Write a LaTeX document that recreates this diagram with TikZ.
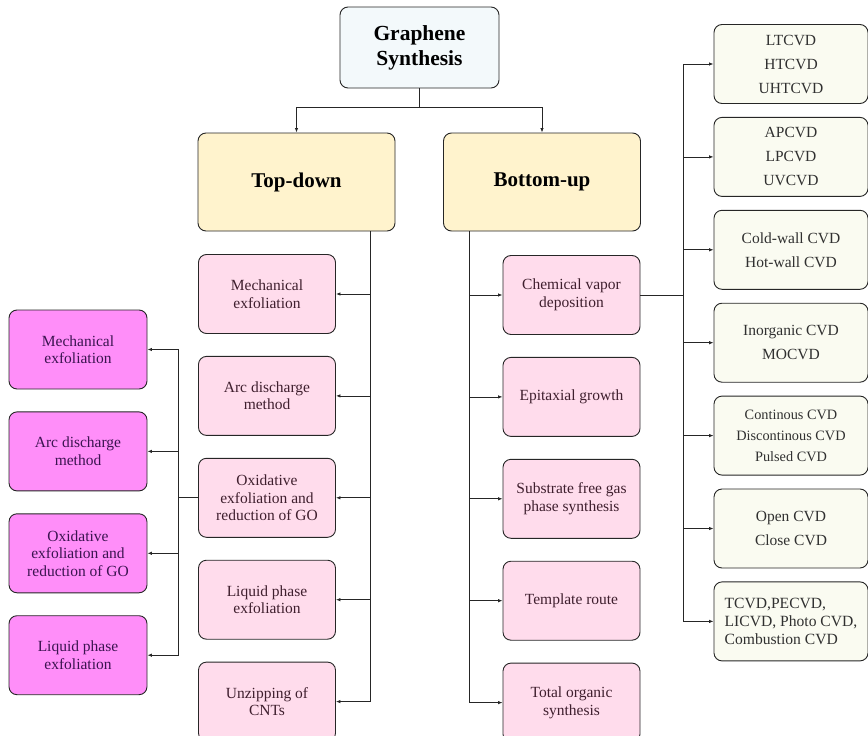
\documentclass[tikz,border=0pt]{standalone}
\usepackage{fontspec}
\setmainfont{Liberation Serif}
\usetikzlibrary{positioning,arrows.meta}
\definecolor{rootfill}{HTML}{F3F9FB}
\definecolor{branchfill}{HTML}{FFF3CD}
\definecolor{methodfill}{HTML}{FFDCEC}
\definecolor{methodtext}{HTML}{3F1F2E}
\definecolor{altfill}{HTML}{FF8EF9}
\definecolor{alttext}{HTML}{3B1450}
\definecolor{cvdfill}{HTML}{FAFBF1}
\definecolor{cvdtext}{HTML}{303030}

\begin{document}
\begin{tikzpicture}[x=1pt,y=-1pt,->,>={Latex[length=4.5pt,width=3.5pt]},
    box/.style={draw=black!85, line width=0.9pt, rounded corners=8pt, align=center, inner sep=2pt},
    root/.style={box, fill=rootfill, minimum width=159pt, minimum height=81pt,
      font=\fontsize{21.5}{25}\selectfont\bfseries},
    branch/.style={box, fill=branchfill, minimum width=197pt, minimum height=98pt,
      font=\fontsize{21}{25}\selectfont\bfseries},
    method/.style={box, fill=methodfill, text=methodtext, minimum width=137pt, minimum height=79pt,
      font=\fontsize{15.5}{17.5}\selectfont},
    alt/.style={method, fill=altfill, text=alttext, minimum width=138pt},
    cvd/.style={box, fill=cvdfill, text=cvdtext, minimum width=154pt, minimum height=79pt,
      font=\fontsize{15.5}{24}\selectfont},
    link/.style={line width=0.8pt, black!85}]
  \useasboundingbox (0,0) rectangle (868,736);

  % top of the tree
  \node (root) [root] at (419.5,47.5) {Graphene\\Synthesis};
  \node (td) [branch] at (296.5,182) {Top-down};
  \node (bu) [branch] at (542,182) {Bottom-up};

  % top-down methods
  \node (m1) [method] at (267,294) {Mechanical\\exfoliation};
  \node (m2) [method, below=22pt of m1] {Arc discharge\\method};
  \node (m3) [method, below=22pt of m2] {Oxidative\\exfoliation and\\reduction of GO};
  \node (m4) [method, below=22pt of m3] {Liquid phase\\exfoliation};
  \node (m5) [method, below=22pt of m4] {Unzipping of\\CNTs};

  % repeated on the far left
  \node (l1) [alt] at (78,349.5) {Mechanical\\exfoliation};
  \node (l2) [alt, below=22pt of l1] {Arc discharge\\method};
  \node (l3) [alt, below=22pt of l2] {Oxidative\\exfoliation and\\reduction of GO};
  \node (l4) [alt, below=22pt of l3] {Liquid phase\\exfoliation};

  % bottom-up methods
  \node (b1) [method] at (571.5,295) {Chemical vapor\\deposition};
  \node (b2) [method, below=22pt of b1] {Epitaxial growth};
  \node (b3) [method, below=22pt of b2] {Substrate free gas\\phase synthesis};
  \node (b4) [method, below=22pt of b3] {Template route};
  \node (b5) [method, below=22pt of b4] {Total organic\\synthesis};

  % kinds of CVD
  \node (r1) [cvd] at (791,64) {LTCVD\\HTCVD\\UHTCVD};
  \node (r2) [cvd, below=13pt of r1] {APCVD\\LPCVD\\UVCVD};
  \node (r3) [cvd, below=13pt of r2] {Cold-wall CVD\\Hot-wall CVD};
  \node (r4) [cvd, below=13pt of r3] {Inorganic CVD\\MOCVD};
  \node (r5) [cvd, below=13pt of r4, font=\fontsize{14.3}{21}\selectfont]
    {Continous CVD\\Discontinous CVD\\Pulsed CVD};
  \node (r6) [cvd, below=13pt of r5] {Open CVD\\Close CVD};
  \node (r7) [cvd, below=13pt of r6, align=left, font=\fontsize{15.6}{18}\selectfont]
    {TCVD,PECVD,\\LICVD, Photo CVD,\\Combustion CVD};

  % connectors
  \coordinate (split) at ([yshift=-19pt]root.south);
  \draw[link,-] (root.south) -- (split);
  \draw[link] (split) -| (td.north);
  \draw[link] (split) -| (bu.north);

  \coordinate (tdbus) at ([xshift=73.5pt]td.south);
  \foreach \n in {m1,m2,m3,m4,m5}
    \draw[link] (tdbus) |- (\n.east);

  \coordinate (lbus) at ([xshift=-20pt]m3.west);
  \draw[link,-] (m3.west) -- (lbus);
  \foreach \n in {l1,l2,l3,l4}
    \draw[link] (lbus) |- (\n.east);

  \coordinate (bubus) at ([xshift=-73pt]bu.south);
  \foreach \n in {b1,b2,b3,b4,b5}
    \draw[link] (bubus) |- (\n.west);

  \coordinate (cvdbus) at ([xshift=43pt]b1.east);
  \draw[link,-] (b1.east) -- (cvdbus);
  \foreach \n in {r1,r2,r3,r4,r5,r6,r7}
    \draw[link] (cvdbus) |- (\n.west);
\end{tikzpicture}
\end{document}
